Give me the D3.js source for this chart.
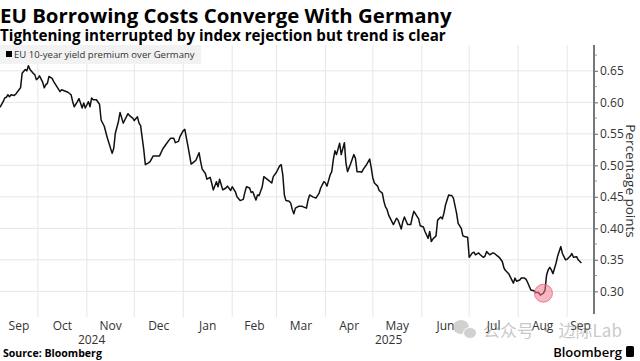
<!DOCTYPE html>
<html>
<head>
<meta charset="utf-8">
<script src="https://cdn.jsdelivr.net/npm/d3@7"></script>
<style>
  body { margin: 0; background: #fff; }
  svg { display: block; }
</style>
</head>
<body>
<svg id="chart" width="640" height="361"></svg>
<script>
const title = 'EU Borrowing Costs Converge With Germany';
const subtitle = 'Tightening interrupted by index rejection but trend is clear';
const seriesName = 'EU 10-year yield premium over Germany';
const axisTitle = 'Percentage points';
const source = 'Source: Bloomberg';
const yTicks = [0.30, 0.35, 0.40, 0.45, 0.50, 0.55, 0.60, 0.65];
const markerDate = '2025-08-17';

const dates = [
  '2024-09-07','2024-09-09','2024-09-10','2024-09-11','2024-09-12','2024-09-13','2024-09-14','2024-09-16','2024-09-17','2024-09-19',
  '2024-09-20','2024-09-21','2024-09-23','2024-09-24','2024-09-25','2024-09-26','2024-09-28','2024-09-29','2024-09-30','2024-10-01',
  '2024-10-02','2024-10-04','2024-10-05','2024-10-06','2024-10-07','2024-10-08','2024-10-10','2024-10-11','2024-10-13','2024-10-15',
  '2024-10-16','2024-10-18','2024-10-20','2024-10-22','2024-10-23','2024-10-24','2024-10-26','2024-10-27','2024-10-29','2024-10-30',
  '2024-10-31','2024-11-02','2024-11-03','2024-11-04','2024-11-05','2024-11-07','2024-11-09','2024-11-10','2024-11-12','2024-11-14',
  '2024-11-17','2024-11-18','2024-11-19','2024-11-21','2024-11-22','2024-11-24','2024-11-25','2024-11-27','2024-11-28','2024-11-30',
  '2024-12-01','2024-12-03','2024-12-04','2024-12-05','2024-12-07','2024-12-08','2024-12-10','2024-12-11','2024-12-13','2024-12-15',
  '2024-12-17','2024-12-19','2024-12-21','2024-12-23','2024-12-24','2024-12-26','2024-12-27','2024-12-29','2024-12-30','2025-01-01',
  '2025-01-02','2025-01-03','2025-01-04','2025-01-06','2025-01-08','2025-01-09','2025-01-11','2025-01-12','2025-01-13','2025-01-15',
  '2025-01-16','2025-01-18','2025-01-19','2025-01-20','2025-01-22','2025-01-23','2025-01-24','2025-01-26','2025-01-28','2025-01-29',
  '2025-01-31','2025-02-01','2025-02-03','2025-02-04','2025-02-06','2025-02-08','2025-02-09','2025-02-10','2025-02-12','2025-02-13',
  '2025-02-14','2025-02-16','2025-02-17','2025-02-18','2025-02-20','2025-02-21','2025-02-23','2025-02-24','2025-02-26','2025-02-27',
  '2025-03-01','2025-03-03','2025-03-04','2025-03-05','2025-03-06','2025-03-07','2025-03-09','2025-03-10','2025-03-11','2025-03-12',
  '2025-03-13','2025-03-15','2025-03-17','2025-03-18','2025-03-20','2025-03-21','2025-03-22','2025-03-24','2025-03-26','2025-03-28',
  '2025-03-29','2025-03-31','2025-04-01','2025-04-02','2025-04-04','2025-04-05','2025-04-06','2025-04-07','2025-04-08','2025-04-10',
  '2025-04-11','2025-04-13','2025-04-14','2025-04-15','2025-04-17','2025-04-19','2025-04-20','2025-04-21','2025-04-23','2025-04-24',
  '2025-04-25','2025-04-27','2025-04-29','2025-04-30','2025-05-01','2025-05-02','2025-05-04','2025-05-05','2025-05-07','2025-05-08',
  '2025-05-09','2025-05-10','2025-05-11','2025-05-13','2025-05-14','2025-05-16','2025-05-17','2025-05-19','2025-05-20','2025-05-21',
  '2025-05-23','2025-05-25','2025-05-26','2025-05-27','2025-05-28','2025-05-30','2025-05-31','2025-06-02','2025-06-03','2025-06-05',
  '2025-06-06','2025-06-07','2025-06-08','2025-06-10','2025-06-11','2025-06-13','2025-06-14','2025-06-15','2025-06-16','2025-06-18',
  '2025-06-19','2025-06-20','2025-06-21','2025-06-23','2025-06-24','2025-06-26','2025-06-27','2025-06-28','2025-06-30','2025-07-01',
  '2025-07-03','2025-07-04','2025-07-05','2025-07-07','2025-07-08','2025-07-10','2025-07-11','2025-07-12','2025-07-14','2025-07-16',
  '2025-07-17','2025-07-19','2025-07-20','2025-07-22','2025-07-23','2025-07-24','2025-07-26','2025-07-27','2025-07-29','2025-07-30',
  '2025-07-31','2025-08-02','2025-08-03','2025-08-05','2025-08-06','2025-08-07','2025-08-09','2025-08-11','2025-08-12','2025-08-14',
  '2025-08-15','2025-08-17','2025-08-18','2025-08-19','2025-08-20','2025-08-21','2025-08-22','2025-08-23','2025-08-25','2025-08-26',
  '2025-08-28','2025-08-29','2025-08-31','2025-09-01','2025-09-03','2025-09-04','2025-09-05','2025-09-07','2025-09-08','2025-09-10'
];

const spread = [
  0.592,0.601,0.607,0.608,0.612,0.609,0.612,0.611,0.613,0.620,
  0.623,0.646,0.652,0.650,0.658,0.652,0.646,0.644,0.636,0.638,
  0.642,0.632,0.623,0.628,0.630,0.641,0.638,0.633,0.625,0.617,
  0.620,0.618,0.616,0.612,0.601,0.593,0.601,0.606,0.591,0.599,
  0.591,0.601,0.593,0.607,0.604,0.604,0.597,0.572,0.562,0.543,
  0.519,0.527,0.551,0.570,0.584,0.567,0.572,0.582,0.579,0.575,
  0.571,0.577,0.567,0.563,0.525,0.501,0.504,0.506,0.515,0.515,
  0.515,0.526,0.533,0.540,0.543,0.543,0.536,0.538,0.546,0.555,
  0.557,0.543,0.530,0.502,0.506,0.508,0.520,0.506,0.494,0.487,
  0.478,0.481,0.472,0.461,0.474,0.466,0.478,0.461,0.464,0.467,
  0.460,0.466,0.458,0.450,0.444,0.446,0.457,0.466,0.464,0.457,
  0.458,0.445,0.453,0.452,0.466,0.482,0.478,0.476,0.472,0.482,
  0.489,0.499,0.501,0.485,0.453,0.444,0.443,0.440,0.430,0.423,
  0.432,0.435,0.435,0.434,0.432,0.445,0.453,0.450,0.448,0.456,
  0.464,0.474,0.472,0.467,0.485,0.490,0.509,0.523,0.517,0.535,
  0.517,0.536,0.503,0.490,0.503,0.517,0.511,0.490,0.490,0.489,
  0.494,0.501,0.510,0.496,0.480,0.472,0.467,0.460,0.456,0.443,
  0.434,0.430,0.421,0.411,0.406,0.416,0.413,0.399,0.411,0.418,
  0.406,0.406,0.418,0.427,0.423,0.415,0.404,0.402,0.395,0.384,
  0.395,0.379,0.383,0.388,0.413,0.418,0.415,0.424,0.437,0.453,
  0.452,0.452,0.448,0.424,0.408,0.400,0.388,0.387,0.386,0.354,
  0.361,0.362,0.358,0.361,0.358,0.354,0.356,0.363,0.358,0.361,
  0.360,0.356,0.354,0.347,0.337,0.333,0.328,0.323,0.313,0.321,
  0.316,0.318,0.321,0.321,0.319,0.314,0.302,0.301,0.298,0.298,
  0.294,0.297,0.302,0.326,0.334,0.338,0.334,0.328,0.345,0.356,
  0.371,0.360,0.350,0.351,0.356,0.360,0.354,0.355,0.350,0.345
];

const data = dates.map((d, i) => ({ date: new Date(d), value: spread[i] }));

const width = 640;
const height = 361;
const plotLeft = 0;
const plotRight = 594;
const plotTop = 45;
const plotBottom = 314;
const font = '"Open Sans", "Liberation Sans", sans-serif';

const svg = d3.select('#chart')
  .attr('viewBox', [0, 0, width, height])
  .attr('font-family', font);

svg.append('rect').attr('width', width).attr('height', height).attr('fill', '#fff');

const startDate = new Date('2024-09-07');
const endDate = new Date('2025-09-18');

const x = d3.scaleUtc()
  .domain([startDate, endDate])
  .range([plotLeft, plotRight]);

const y = d3.scaleLinear()
  .domain([0.264, 0.691])
  .range([plotBottom, plotTop]);

// shrink/grow a text to a measured width
const fit = (sel, target) => {
  const w = sel.node().getComputedTextLength();
  const fs = parseFloat(sel.attr('font-size'));
  sel.attr('font-size', fs * target / w);
};

// titles
fit(svg.append('text')
  .attr('x', 0).attr('y', 23)
  .attr('font-size', 20).attr('font-weight', 700).attr('fill', '#000')
  .text(title), 452);

fit(svg.append('text')
  .attr('x', 0).attr('y', 41)
  .attr('font-size', 15).attr('font-weight', 700).attr('fill', '#000')
  .text(subtitle), 446);

// grid
const months = d3.utcMonth.range(d3.utcMonth.ceil(startDate), endDate);

svg.append('g')
  .selectAll('line')
  .data(months)
  .join('line')
  .attr('x1', d => x(d)).attr('x2', d => x(d))
  .attr('y1', plotTop).attr('y2', plotBottom + 3)
  .attr('stroke', '#e6e6e6')
  .attr('stroke-width', 1);

svg.append('g')
  .selectAll('line')
  .data(yTicks)
  .join('line')
  .attr('x1', plotLeft).attr('x2', plotRight)
  .attr('y1', d => y(d)).attr('y2', d => y(d))
  .attr('stroke', '#e6e6e6')
  .attr('stroke-width', 1);

// legend
const legend = svg.append('g');
legend.append('rect')
  .attr('x', 0).attr('y', 45).attr('width', 201).attr('height', 19)
  .attr('fill', '#f2f2f2');
legend.append('rect')
  .attr('x', 6).attr('y', 51).attr('width', 6).attr('height', 6)
  .attr('fill', '#000');
fit(legend.append('text')
  .attr('x', 14).attr('y', 58)
  .attr('font-size', 10).attr('fill', '#333')
  .text(seriesName), 181);

// right axis
const axis = svg.append('g')
  .attr('transform', `translate(${plotRight},0)`)
  .call(d3.axisRight(y)
    .tickValues(yTicks)
    .tickFormat(d3.format('.2f'))
    .tickSize(4)
    .tickPadding(2));

axis.select('.domain').remove();
axis.selectAll('.tick line').attr('stroke', '#777').attr('stroke-width', 1.2);
axis.selectAll('.tick text')
  .attr('font-family', font)
  .attr('font-size', 12)
  .attr('fill', '#333');

const minorTicks = yTicks.map(d => d + 0.025).filter(d => d < y.domain()[1]);
axis.append('g')
  .selectAll('line')
  .data(minorTicks)
  .join('line')
  .attr('x1', 0).attr('x2', 3)
  .attr('y1', d => y(d)).attr('y2', d => y(d))
  .attr('stroke', '#999');

axis.append('line')
  .attr('y1', plotTop).attr('y2', plotBottom)
  .attr('stroke', '#777')
  .attr('stroke-width', 2);

svg.append('text')
  .attr('transform', 'translate(626,181) rotate(90)')
  .attr('text-anchor', 'middle')
  .attr('font-size', 13.5)
  .attr('fill', '#333')
  .text(axisTitle);

// month + year labels
const monthStarts = d3.utcMonth.range(d3.utcMonth.floor(startDate), endDate);
const monthLabels = monthStarts.map(m => {
  const a = m < startDate ? startDate : m;
  const next = d3.utcMonth.offset(m, 1);
  const b = next > endDate ? endDate : next;
  return { label: d3.utcFormat('%b')(m), cx: (x(a) + x(b)) / 2 };
});

svg.append('g')
  .selectAll('text')
  .data(monthLabels)
  .join('text')
  .attr('x', d => d.cx)
  .attr('y', 330)
  .attr('text-anchor', 'middle')
  .attr('font-size', 12)
  .attr('fill', '#333')
  .text(d => d.label);

const years = d3.utcYear.range(d3.utcYear.floor(startDate), endDate).map(yr => {
  const a = yr < startDate ? startDate : yr;
  const next = d3.utcYear.offset(yr, 1);
  const b = next > endDate ? endDate : next;
  return { label: d3.utcFormat('%Y')(yr), cx: (x(a) + x(b)) / 2 };
});

svg.append('g')
  .selectAll('text')
  .data(years)
  .join('text')
  .attr('x', d => d.cx)
  .attr('y', 344)
  .attr('text-anchor', 'middle')
  .attr('font-size', 12)
  .attr('fill', '#333')
  .text(d => d.label);

// line
const line = d3.line()
  .x(d => x(d.date))
  .y(d => y(d.value));

svg.append('path')
  .datum(data)
  .attr('fill', 'none')
  .attr('stroke', '#111')
  .attr('stroke-width', 1.5)
  .attr('stroke-linejoin', 'round')
  .attr('d', line);

// low-point marker
const marker = data.find(d => +d.date === +new Date(markerDate));
svg.append('circle')
  .attr('cx', x(marker.date))
  .attr('cy', y(marker.value))
  .attr('r', 9)
  .attr('fill', '#f27a92')
  .attr('fill-opacity', 0.55)
  .attr('stroke', '#e8637c')
  .attr('stroke-width', 0.8);

// footer
fit(svg.append('text')
  .attr('x', 3).attr('y', 357)
  .attr('font-size', 10).attr('font-weight', 700).attr('fill', '#000')
  .text(source), 99);

svg.append('text')
  .attr('x', 622).attr('y', 357)
  .attr('text-anchor', 'end')
  .attr('font-size', 13).attr('font-weight', 600).attr('fill', '#000')
  .text('Bloomberg');

svg.append('rect')
  .attr('x', 626).attr('y', 346).attr('width', 8).attr('height', 11).attr('rx', 1.5)
  .attr('fill', '#000');

// watermark (sits over the month labels, as in the source image)
const wm = svg.append('g').attr('opacity', 0.45);
wm.append('ellipse').attr('cx', 461).attr('cy', 327).attr('rx', 8).attr('ry', 7).attr('fill', '#9a9a9a');
wm.append('ellipse').attr('cx', 470).attr('cy', 333).attr('rx', 6.5).attr('ry', 5.5).attr('fill', '#9a9a9a')
  .attr('stroke', '#fff').attr('stroke-width', 1);
wm.append('text')
  .attr('x', 483).attr('y', 337)
  .attr('font-family', '"Noto Sans CJK SC", sans-serif')
  .attr('font-size', 17)
  .attr('fill', '#888')
  .text('公众号 · 边际Lab');
</script>
</body>
</html>
